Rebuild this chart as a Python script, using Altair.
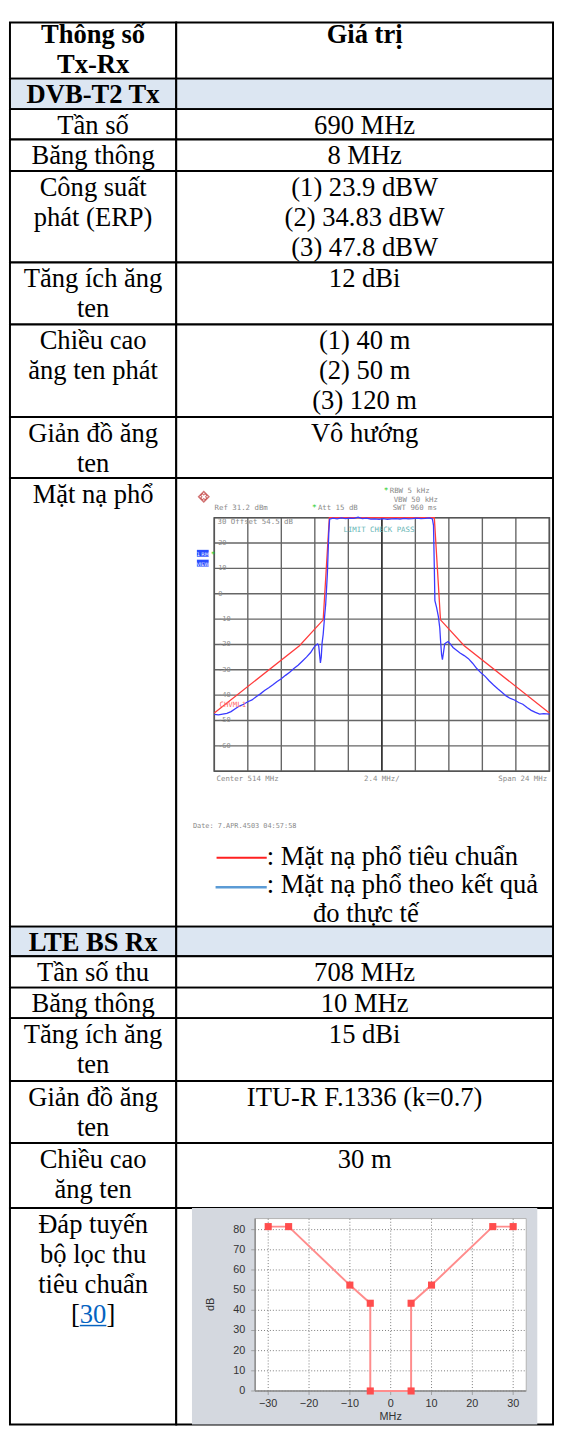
import altair as alt
import pandas as pd

# ---------------- table content ----------------
left_lines = [
    ["Thông số", "Tx-Rx"],
    ["DVB-T2 Tx"],
    ["Tần số"],
    ["Băng thông"],
    ["Công suất", "phát  (ERP)"],
    ["Tăng ích ăng", "ten"],
    ["Chiều cao", "ăng ten phát"],
    ["Giản đồ ăng", "ten"],
    ["Mặt nạ phổ"],
    ["LTE BS Rx"],
    ["Tần số thu"],
    ["Băng thông"],
    ["Tăng ích ăng", "ten"],
    ["Giản đồ ăng", "ten"],
    ["Chiều cao", "ăng ten"],
    ["Đáp tuyến", "bộ lọc thu", "tiêu chuẩn"],
]
right_lines = [
    ["Giá trị"],
    [],
    ["690 MHz"],
    ["8 MHz"],
    ["(1) 23.9 dBW", "(2) 34.83 dBW", "(3) 47.8 dBW"],
    ["12 dBi"],
    ["(1) 40 m", "(2) 50 m", "(3) 120 m"],
    ["Vô hướng"],
    None,
    [],
    ["708 MHz"],
    ["10 MHz"],
    ["15 dBi"],
    ["ITU-R F.1336 (k=0.7)"],
    ["30 m"],
    None,
]
row_kind = ["head", "sec", "", "", "", "", "", "", "spec", "sec", "", "", "", "", "", "filt"]
ref_label = ["[", "30", "]"]

# ---------------- spectrum mask data ----------------
spec_x_ticks = [-12.0, -9.6, -7.2, -4.8, -2.4, 0.0, 2.4, 4.8, 7.2, 9.6, 12.0]
spec_y_ticks = [30, 20, 10, 0, -10, -20, -30, -40, -50, -60, -70]
spec_y_labels = ["20", "10", "0", "-10", "-20", "-30", "-40", "-50", "-60"]
mask_f = [-12.0, -5.9, -4.2, -3.76, 3.76, 4.2, 5.9, 12.0]
mask_db = [-47.0, -20.5, -10.3, 30.0, 30.0, -10.3, -20.5, -47.0]
meas_f = [-12.0, -11.7, -11.4, -11.1, -10.8, -10.5, -10.2, -9.9, -9.6, -9.3, -9.0,
          -8.7, -8.4, -8.1, -7.8, -7.5, -7.2, -6.9, -6.6, -6.3, -6.0, -5.7, -5.4,
          -5.1, -4.9, -4.75, -4.6, -4.52, -4.45, -4.4, -4.34, -4.28, -4.2, -4.1,
          -4.02, -3.9, -3.8, -3.74, -3.5, -3.2, -2.9, -2.6, -2.3, -2.0, -1.7, -1.4,
          -1.1, -0.8, -0.5, -0.2, 0.1, 0.4, 0.7, 1.0, 1.3, 1.6, 1.9, 2.2, 2.5, 2.8,
          3.1, 3.4, 3.62, 3.7, 3.76, 3.8, 3.92, 4.05, 4.15, 4.22, 4.28, 4.34, 4.42,
          4.5, 4.6, 4.74, 4.9, 5.1, 5.35, 5.6, 5.9, 6.2, 6.5, 6.8, 7.1, 7.4, 7.7,
          8.0, 8.3, 8.6, 8.9, 9.2, 9.5, 9.8, 10.1, 10.4, 10.7, 11.0, 11.3, 11.6, 12.0]
meas_db = [-47.6, -47.8, -47.5, -47.2, -46.5, -45.4, -44.3, -43.6, -42.6, -41.9, -40.6,
           -39.5, -38.2, -37.1, -35.9, -34.6, -33.5, -32.2, -31.0, -29.5, -28.2, -26.6, -25.0,
           -23.2, -21.5, -20.4, -19.8, -20.6, -24.5, -27.3, -25.0, -19.5, -16.0, -9.0,
           -4.0, 8.0, 24.0, 29.4, 29.8, 29.5, 29.9, 29.6, 29.8, 29.7, 30.2, 29.6,
           29.8, 29.4, 29.5, 29.3, 29.6, 29.3, 29.5, 29.6, 29.4, 29.7, 29.5, 29.6, 29.8, 29.6,
           29.7, 29.9, 29.5, 27.0, 10.0, -2.7, -5.4, -9.0, -13.5, -19.6, -24.0, -26.0, -23.0,
           -19.8, -19.3, -18.9, -19.8, -21.2, -22.3, -23.4, -24.4, -25.6, -27.4, -29.5, -31.2, -32.6, -34.4,
           -36.0, -37.5, -38.9, -40.3, -41.3, -41.9, -42.9, -43.6, -44.9, -46.0, -46.8, -47.5, -47.3, -47.5]

# ---------------- receiver filter data ----------------
filt_x_ticks = [-30, -20, -10, 0, 10, 20, 30]
filt_y_ticks = [0, 10, 20, 30, 40, 50, 60, 70, 80]
filt_x_lim = [-33.2, 33.2]
filt_y_lim = [0, 85.5]
filt_f = [-30, -25, -10, -5, -5, 5, 5, 10, 25, 30]
filt_db = [81.5, 81.5, 52.5, 43.5, 0, 0, 43.5, 52.5, 81.5, 81.5]

# ---------------- layout ----------------
SERIF = "Liberation Serif"
FS = 27
LH = 30.5
W_L, W_R = 169, 383
row_h = [57, 31, 31, 32, 93, 63, 94, 62, 456, 30, 32, 31, 64, 63, 66, 220]
SEC_FILL = "#dce6f2"


def cell_view(fill):
    return alt.ViewBackground(fill=fill, stroke="black", strokeWidth=2)


def txt(text, x, y, size=FS, font=SERIF, color="black", align="center", weight="normal",
        baseline="alphabetic", angle=0):
    return alt.Chart(pd.DataFrame({"t": [text]})).mark_text(
        font=font, fontSize=size, color=color, align=align, fontWeight=weight,
        baseline=baseline, lineBreak="\n", lineHeight=LH, angle=angle
    ).encode(text="t:N", x=alt.value(x), y=alt.value(y))


def text_cell(lines, w, h, kind):
    fill = SEC_FILL if kind == "sec" else "white"
    bold = "bold" if kind in ("head", "sec") else "normal"
    y0 = 21 if kind == "head" else 25
    layers = [txt("\n".join(lines) if lines else " ", w / 2, y0, weight=bold)]
    return layers, fill


def mono(text, x, y, color="#8a8a8a", align="left", size=7.5):
    return txt(text, x, y, size=size, font="DejaVu Sans Mono", color=color, align=align)


# ---------------- spectrum cell ----------------
def spectrum_cell(w, h):
    gx0, gx1, gy0, gy1 = 38.7, 379.3, 40.3, 298.0
    kx = (gx1 - gx0) / (spec_x_ticks[-1] - spec_x_ticks[0])
    ky = (gy1 - gy0) / (spec_y_ticks[0] - spec_y_ticks[-1])
    sx = alt.Scale(domain=[spec_x_ticks[0] - gx0 / kx, spec_x_ticks[-1] + (w - gx1) / kx],
                   nice=False, zero=False)
    sy = alt.Scale(domain=[spec_y_ticks[-1] - (h - gy1) / ky, spec_y_ticks[0] + gy0 / ky],
                   nice=False, zero=False)
    X = lambda f: alt.X(f, scale=sx, axis=None)
    Y = lambda f: alt.Y(f, scale=sy, axis=None)

    vg = pd.DataFrame({"f": spec_x_ticks, "lo": spec_y_ticks[-1], "hi": spec_y_ticks[0]})
    hg = pd.DataFrame({"d": spec_y_ticks, "lo": spec_x_ticks[0], "hi": spec_x_ticks[-1]})
    vgrid = alt.Chart(vg).mark_rule(color="#666666", strokeWidth=1.4).encode(
        x=X("f:Q"), y=Y("lo:Q"), y2="hi:Q")
    center = alt.Chart(vg[vg["f"] == 0]).mark_rule(color="#333333", strokeWidth=1.6).encode(
        x=X("f:Q"), y=Y("lo:Q"), y2="hi:Q")
    hgrid = alt.Chart(hg).mark_rule(color="#666666", strokeWidth=1.4).encode(
        y=Y("d:Q"), x=X("lo:Q"), x2="hi:Q")
    box = alt.Chart(pd.DataFrame({"x0": [spec_x_ticks[0]], "x1": [spec_x_ticks[-1]],
                                  "y0": [spec_y_ticks[-1]], "y1": [spec_y_ticks[0]]})).mark_rect(
        fillOpacity=0, stroke="#555555", strokeWidth=1.6).encode(
        x=X("x0:Q"), x2="x1:Q", y=Y("y0:Q"), y2="y1:Q")
    ylab = alt.Chart(pd.DataFrame({"lab": spec_y_labels,
                                   "d": [float(v) for v in spec_y_labels],
                                   "f": spec_x_ticks[0]})).mark_text(
        font="DejaVu Sans Mono", fontSize=7, color="#8a8a8a", align="left", baseline="middle",
        dx=4).encode(x=X("f:Q"), y=Y("d:Q"), text="lab:N")
    red = alt.Chart(pd.DataFrame({"f": mask_f, "d": mask_db, "i": range(len(mask_f))})).mark_line(
        color="#ff3b3b", strokeWidth=1.3).encode(x=X("f:Q"), y=Y("d:Q"), order="i:Q")
    blue = alt.Chart(pd.DataFrame({"f": meas_f, "d": meas_db, "i": range(len(meas_f))})).mark_line(
        color="#3a3aff", strokeWidth=1.3).encode(x=X("f:Q"), y=Y("d:Q"), order="i:Q")

    logo = alt.Chart(pd.DataFrame({"a": [0]})).mark_point(
        shape="diamond", size=110, filled=False, color="#c03a3a", strokeWidth=1.5).encode(
        x=alt.value(28), y=alt.value(19))
    logo2 = alt.Chart(pd.DataFrame({"a": [0]})).mark_point(
        shape="cross", size=40, filled=False, color="#c03a3a", strokeWidth=1, angle=45).encode(
        x=alt.value(28), y=alt.value(19))
    boxes = alt.Chart(pd.DataFrame({"a": [0]})).mark_rect(color="#2a4dff").encode(
        x=alt.value(21), x2=alt.value(33), y=alt.value(73), y2=alt.value(80))
    boxes2 = alt.Chart(pd.DataFrame({"a": [0]})).mark_rect(color="#2a4dff").encode(
        x=alt.value(21), x2=alt.value(33), y=alt.value(83), y2=alt.value(90))

    layers = [
        vgrid, hgrid, center, box, ylab, red, blue, logo, logo2, boxes, boxes2,
        txt("1 RM", 27, 79, size=5, font="DejaVu Sans", color="white"),
        txt("VIEW", 27, 89, size=5, font="DejaVu Sans", color="white"),
        txt("*", 35, 80, size=8, font="DejaVu Sans Mono", color="#22cc22", align="left"),
        txt("*", 211, 15, size=8, font="DejaVu Sans Mono", color="#22cc22", align="left"),
        mono("RBW  5 kHz", 217, 15),
        mono("VBW  50 kHz", 221, 24),
        mono("Ref  31.2 dBm", 39, 33),
        txt("*", 138, 33, size=8, font="DejaVu Sans Mono", color="#22cc22", align="left"),
        mono("Att  15 dB", 144, 33),
        mono("SWT  960 ms", 220, 33),
        mono("30  Offset  54.5 dB", 42, 47),
        mono("LIMIT CHECK   PASS", 170, 55, color="#66b5b5"),
        mono("CHVML1", 44, 233, color="#ff6a6a"),
        mono("Center  514 MHz", 41, 308),
        mono("2.4 MHz/", 209, 308, align="center"),
        mono("Span  24 MHz", 377, 308, align="right"),
        mono("Date:  7.APR.4503  04:57:58", 17, 356, size=7),
        alt.Chart(pd.DataFrame({"a": [0]})).mark_rule(color="#ff2020", strokeWidth=2).encode(
            x=alt.value(41), x2=alt.value(92), y=alt.value(386)),
        alt.Chart(pd.DataFrame({"a": [0]})).mark_rule(color="#5b9bd5", strokeWidth=2.5).encode(
            x=alt.value(40), x2=alt.value(92), y=alt.value(416)),
        txt(": Mặt nạ phổ tiêu chuẩn", 92, 393, align="left"),
        txt(": Mặt nạ phổ theo kết quả", 92, 422, align="left"),
        txt("đo thực tế", 139, 451, align="left"),
    ]
    return layers


# ---------------- filter cell ----------------
def filter_cell(w, h):
    f0px, kfx = 218.0, 4.15
    d0px, kfy = 186.0, 2.05
    fx = alt.Scale(domain=[-f0px / kfx, (w - f0px) / kfx], nice=False, zero=False)
    fy = alt.Scale(domain=[-(h - d0px) / kfy, d0px / kfy], nice=False, zero=False)
    X = lambda f: alt.X(f, scale=fx, axis=None)
    Y = lambda f: alt.Y(f, scale=fy, axis=None)

    panel = alt.Chart(pd.DataFrame({"a": [0]})).mark_rect(color="#d4d8df").encode(
        x=alt.value(16), x2=alt.value(367), y=alt.value(0), y2=alt.value(h))
    plot = alt.Chart(pd.DataFrame({"x0": [filt_x_lim[0]], "x1": [filt_x_lim[1]],
                                   "y0": [filt_y_lim[0]], "y1": [filt_y_lim[1]]})).mark_rect(
        fill="white", stroke="#b4b4b4", strokeWidth=1).encode(
        x=X("x0:Q"), x2="x1:Q", y=Y("y0:Q"), y2="y1:Q")
    vg = pd.DataFrame({"f": filt_x_ticks, "lo": filt_y_lim[0], "hi": filt_y_lim[1]})
    hg = pd.DataFrame({"d": filt_y_ticks, "lo": filt_x_lim[0], "hi": filt_x_lim[1]})
    vgrid = alt.Chart(vg).mark_rule(color="#7a7a7a", strokeWidth=1, strokeDash=[1, 2]).encode(
        x=X("f:Q"), y=Y("lo:Q"), y2="hi:Q")
    hgrid = alt.Chart(hg).mark_rule(color="#7a7a7a", strokeWidth=1, strokeDash=[1, 2]).encode(
        y=Y("d:Q"), x=X("lo:Q"), x2="hi:Q")
    axes = alt.Chart(pd.DataFrame({"x0": [filt_x_lim[0]], "x1": [filt_x_lim[1]],
                                   "y0": [filt_y_lim[0]], "y1": [filt_y_lim[1]]}))
    yaxis = axes.mark_rule(color="#8c8c8c", strokeWidth=1.5).encode(
        x=X("x0:Q"), y=Y("y0:Q"), y2="y1:Q")
    xaxis = axes.mark_rule(color="#8c8c8c", strokeWidth=1.5).encode(
        y=Y("y0:Q"), x=X("x0:Q"), x2="x1:Q")
    ytk = alt.Chart(pd.DataFrame({"d": filt_y_ticks, "x": filt_x_lim[0]})).mark_tick(
        orient="horizontal", size=4, thickness=1, color="#8c8c8c", xOffset=-2).encode(
        x=X("x:Q"), y=Y("d:Q"))
    xtk = alt.Chart(pd.DataFrame({"f": filt_x_ticks, "y": filt_y_lim[0]})).mark_tick(
        orient="vertical", size=4, thickness=1, color="#8c8c8c", yOffset=2).encode(
        x=X("f:Q"), y=Y("y:Q"))
    ylab = alt.Chart(pd.DataFrame({"d": filt_y_ticks, "x": filt_x_lim[0]})).mark_text(
        font="Liberation Sans", fontSize=11, color="#333333", align="right", baseline="middle",
        dx=-10).encode(x=X("x:Q"), y=Y("d:Q"), text=alt.Text("d:Q", format="d"))
    xlab = alt.Chart(pd.DataFrame({"f": filt_x_ticks, "y": filt_y_lim[0]})).mark_text(
        font="Liberation Sans", fontSize=11, color="#333333", align="center", baseline="middle",
        dy=13).encode(x=X("f:Q"), y=Y("y:Q"), text=alt.Text("f:Q", format="d"))
    xt = alt.Chart(pd.DataFrame({"f": [0], "y": [filt_y_lim[0]], "t": ["MHz"]})).mark_text(
        font="Liberation Sans", fontSize=11, color="#333333", align="center", baseline="middle",
        dy=26).encode(x=X("f:Q"), y=Y("y:Q"), text="t:N")
    yt = txt("dB", 35, 98, size=11, font="Liberation Sans", color="#333333", angle=270,
             baseline="middle")
    src = pd.DataFrame({"f": filt_f, "d": filt_db, "i": range(len(filt_f))})
    line = alt.Chart(src).mark_line(color="#ff8c8c", strokeWidth=2).encode(
        x=X("f:Q"), y=Y("d:Q"), order="i:Q")
    pts = alt.Chart(src).mark_point(shape="square", filled=True, size=52, color="#ff4d4d",
                                    opacity=1).encode(x=X("f:Q"), y=Y("d:Q"))
    return [panel, plot, vgrid, hgrid, yaxis, xaxis, ytk, xtk, ylab, xlab, xt, yt, line, pts]


# ---------------- assemble ----------------
cells = []
for i, h in enumerate(row_h):
    kind = row_kind[i]
    llayers, lfill = text_cell(left_lines[i], W_L, h, kind)
    if kind == "filt":
        yb = 25 + 3 * LH
        llayers += [
            txt(ref_label[0], W_L / 2 - 13.5, yb, align="right"),
            txt(ref_label[1], W_L / 2, yb, color="#0563c1"),
            txt(ref_label[2], W_L / 2 + 13.5, yb, align="left"),
            alt.Chart(pd.DataFrame({"a": [0]})).mark_rule(color="#0563c1", strokeWidth=1.5).encode(
                x=alt.value(W_L / 2 - 13.5), x2=alt.value(W_L / 2 + 13.5), y=alt.value(yb + 3)),
        ]
    left = alt.layer(*llayers).properties(width=W_L, height=h, view=cell_view(lfill))
    if kind == "spec":
        rlayers, rfill = spectrum_cell(W_R, h), "white"
    elif kind == "filt":
        rlayers, rfill = filter_cell(W_R, h), "white"
    else:
        rlayers, rfill = text_cell(right_lines[i], W_R, h, kind)
    right = alt.layer(*rlayers).properties(width=W_R, height=h, view=cell_view(rfill))
    cells += [left, right]

chart = alt.concat(*cells, columns=2, spacing=0, bounds="flush", align="each").properties(
    padding={"left": 1, "top": 1, "right": 0, "bottom": 0},
    background="white",
)

chart.save("out.html", embed_options={"renderer": "svg", "actions": False})
